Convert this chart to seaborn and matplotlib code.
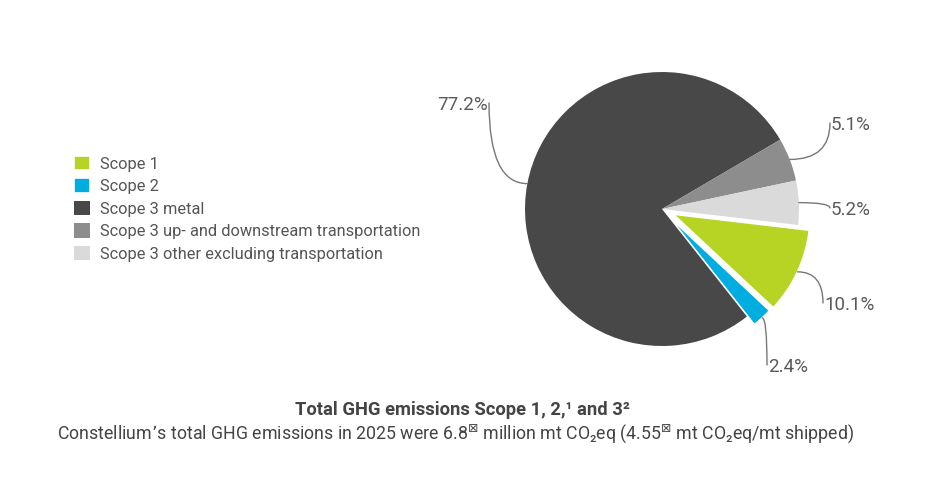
import numpy as np
import matplotlib.pyplot as plt
import seaborn as sns

# Data (legend order)
categories = ['Scope 1', 'Scope 2', 'Scope 3 metal',
              'Scope 3 up- and downstream transportation',
              'Scope 3 other excluding transportation']
shares = [10.1, 2.4, 77.2, 5.1, 5.2]
pct_labels = ['10.1%', '2.4%', '77.2%', '5.1%', '5.2%']
colors = ['#b7d324', '#00ade0', '#484848', '#8d8d8d', '#dadada']
explode = [0.09, 0.08, 0, 0, 0]

title = 'Total GHG emissions Scope 1, 2,\u00b9 and 3\u00b2'
subtitle = ('Constellium\u2019s total GHG emissions in 2025 were 6.8$^{\\boxtimes}$ million mt CO\u2082eq '
            '(4.55$^{\\boxtimes}$ mt CO\u2082eq/mt shipped)')

sns.set_theme(style='white')
plt.rcParams['font.family'] = ['Roboto', 'DejaVu Sans']

W, H = 940, 493
CX, CY, R = 662, 209, 137.0


def px(x, y):
    # pixel (from top-left) -> data units, 1 unit = pie radius
    return (x - CX) / R, (CY - y) / R


fig = plt.figure(figsize=(W / 100, H / 100), dpi=100)
ax = fig.add_axes([0, 0, 1, 1])

wedges, _ = ax.pie(shares, colors=colors, explode=explode, startangle=-6.7,
                   counterclock=False, radius=1,
                   wedgeprops=dict(linewidth=0, edgecolor='white'))
for w, e in zip(wedges, explode):
    if e > 0:
        w.set_linewidth(1.2)

ax.set_xlim(px(0, 0)[0], px(W, 0)[0])
ax.set_ylim(px(0, H)[1], px(0, 0)[1])
ax.set_aspect('auto')
ax.axis('off')

# label anchor positions (pixels) and text alignment
label_pos = {'10.1%': (823, 303, 'left'), '2.4%': (767, 365, 'left'),
             '77.2%': (489, 103, 'right'), '5.1%': (830, 123, 'left'),
             '5.2%': (830, 208, 'left')}

for w, lab in zip(wedges, pct_labels):
    mid = np.deg2rad((w.theta1 + w.theta2) / 2)
    cx, cy = w.center
    edge = (cx + np.cos(mid), cy + np.sin(mid))
    lx, ly, ha = label_pos[lab]
    tx, ty = px(lx, ly)
    dx = -1 / R if ha == 'right' else 1 / R
    ax.annotate('', xy=edge, xytext=(tx, ty),
                arrowprops=dict(arrowstyle='-', color='#777777', lw=1,
                                shrinkA=0, shrinkB=0,
                                connectionstyle='angle3,angleA=90,angleB=0'))
    ax.text(tx + dx, ty - 2 / R, lab, ha=ha, va='center', fontsize=13.5,
            color='#5a5a5a')

fig.legend(wedges, categories, loc='upper left',
           bbox_to_anchor=(67 / W, 1 - 149 / H), frameon=False,
           fontsize=11.8, labelcolor='#555555', handlelength=1.0,
           handleheight=1.0, handletextpad=0.6, labelspacing=0.4,
           borderaxespad=0)

fig.text(462 / W, 1 - 410 / H, title, ha='center', va='center',
         fontsize=13.2, fontweight='bold', color='#444444')
fig.text(456 / W, 1 - 434 / H, subtitle, ha='center', va='center',
         fontsize=12.8, color='#444444')

fig.savefig('out.png', dpi=100)
